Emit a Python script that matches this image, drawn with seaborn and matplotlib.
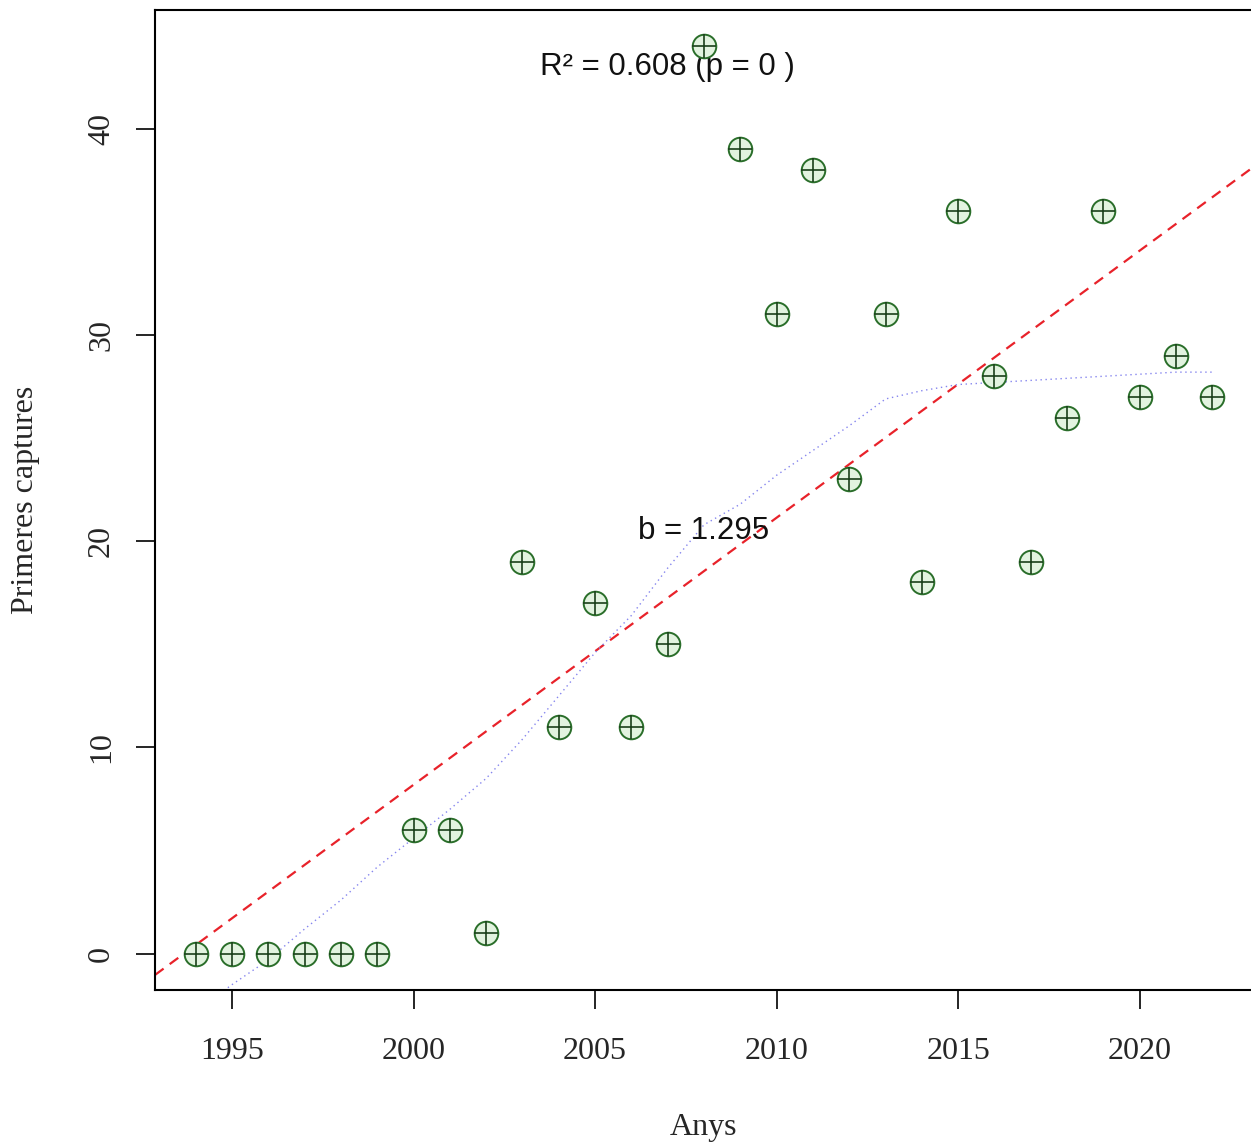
import numpy as np
import pandas as pd
import seaborn as sns
import matplotlib.pyplot as plt

YEARS = list(range(1994, 2023))
CAPTURES = [0, 0, 0, 0, 0, 0, 6, 6, 1, 19, 11, 17, 11, 15, 44, 39, 31, 38,
            23, 31, 18, 36, 28, 19, 26, 36, 27, 29, 27]
# smoothed (lowess) curve, one value per year
LOWESS = [-2.8, -1.5, -0.3, 1.2, 2.6, 4.2, 5.6, 7.0, 8.5, 10.4, 12.5, 14.6,
          16.4, 18.7, 20.8, 21.8, 23.2, 24.4, 25.6, 26.9, 27.3, 27.6, 27.7,
          27.8, 27.9, 28.0, 28.1, 28.2, 28.2]
R2_TEXT = "R² = 0.608 (p = 0 )"
B_TEXT = "b = 1.295"

SERIF = ["Liberation Serif", "DejaVu Serif"]
SANS = ["Liberation Sans", "DejaVu Sans"]

sns.set_theme(style="white")
plt.rcParams["font.family"] = SERIF

df = pd.DataFrame({"year": YEARS, "captures": CAPTURES, "lowess": LOWESS})

fig = plt.figure(figsize=(12.51, 11.47), dpi=100)
ax = fig.add_axes([155 / 1251, 157 / 1147, 1098 / 1251, 980 / 1147])

XLIM = (1992.88, 2023.12)
YLIM = (-1.76, 45.76)
ax.set_xlim(XLIM)
ax.set_ylim(YLIM)

# regression line over the full x range (abline)
sns.regplot(data=df, x="year", y="captures", ax=ax, scatter=False, ci=None,
            truncate=False,
            line_kws=dict(color="#e8222a", linewidth=1.6, dashes=(4.8, 3.4)))

# smoothed curve
sns.lineplot(data=df, x="year", y="lowess", ax=ax, color="#8585ee",
             linewidth=1.0, linestyle=(0, (1, 2.6)))

# circle-plus markers
sns.scatterplot(data=df, x="year", y="captures", ax=ax, marker="o", s=17 ** 2,
                facecolor="#e2f3df", edgecolor="#2a6e2a", linewidth=1.4,
                zorder=5)
sns.scatterplot(data=df, x="year", y="captures", ax=ax, marker="+", s=17 ** 2,
                color="#1a3f1a", linewidth=1.2, zorder=6)

ax.set_xlim(XLIM)
ax.set_ylim(YLIM)

ax.text(2007.0, 43.0, R2_TEXT, family=SANS, fontsize=22.5, ha="center",
        va="center", color="#111111")
ax.text(2008.0, 20.5, B_TEXT, family=SANS, fontsize=22.5, ha="center",
        va="center", color="#111111")

ax.set_xticks([1995, 2000, 2005, 2010, 2015, 2020])
ax.set_yticks([0, 10, 20, 30, 40])
ax.tick_params(axis="both", direction="out", length=14, width=1.2,
               color="black", labelsize=23, bottom=True, left=True)
ax.tick_params(axis="x", pad=20)
ax.tick_params(axis="y", pad=14)
for lab in ax.get_yticklabels():
    lab.set_rotation(90)
    lab.set_va("center")

ax.set_xlabel("Anys", fontsize=23, labelpad=34)
ax.set_ylabel("Primeres captures", fontsize=23, labelpad=34)

for side in ["left", "bottom", "top"]:
    ax.spines[side].set_color("black")
    ax.spines[side].set_linewidth(1.5)
ax.spines["right"].set_visible(False)
ax.grid(False)

fig.savefig("out.png", dpi=100)
